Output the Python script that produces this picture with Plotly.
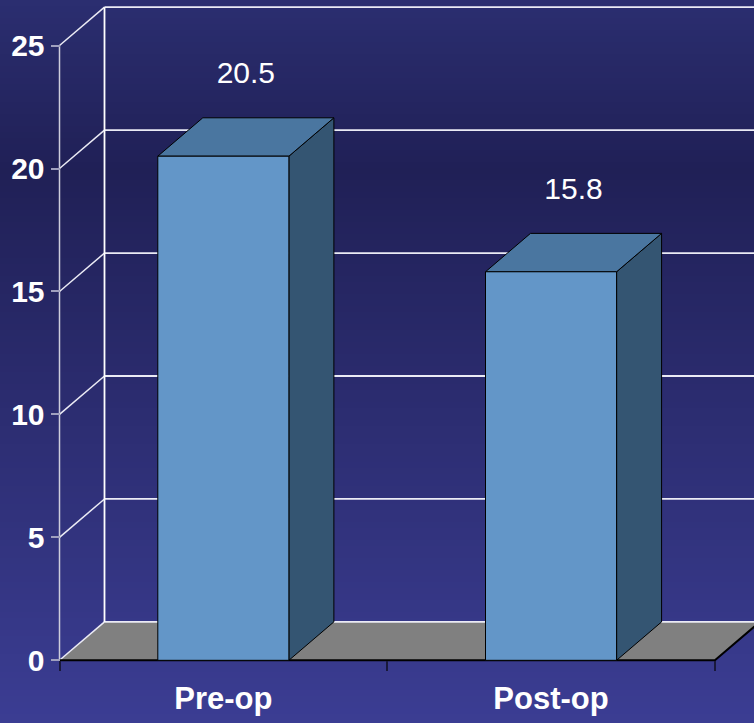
import plotly.graph_objects as go

# ---- data ----
categories = ["Pre-op", "Post-op"]
values = [20.5, 15.8]
value_labels = ["20.5", "15.8"]
y_ticks = [0, 5, 10, 15, 20, 25]

# ---- geometry / style constants ----
W, H = 754, 723
PX_X = 327.7          # pixels per category unit
PX_Y = 24.59          # pixels per value unit
ORG_X, ORG_Y = 59.5, 660.3   # pixel position of the front axis origin
x_range = [-0.5 - ORG_X / PX_X, -0.5 + (W - ORG_X) / PX_X]
y_range = [-(H - ORG_Y) / PX_Y, ORG_Y / PX_Y]
DX = 45 / PX_X        # depth offset (x)
DY = 38.4 / PX_Y      # depth offset (y)
HALF = 0.2            # half bar width
X0 = -0.5
X1 = len(categories) - 0.5
YMAX = y_ticks[-1]

FONT = "Liberation Sans, Arial, sans-serif"

FRONT = "rgb(99,150,200)"
TOP = "rgb(74,118,160)"
SIDE = "rgb(52,85,114)"
FLOOR = "rgb(128,128,128)"

fig = go.Figure()


def poly(xs, ys, fill, lc="black", lw=1):
    fig.add_trace(go.Scatter(
        x=xs + [xs[0]], y=ys + [ys[0]], mode="lines", fill="toself",
        fillcolor=fill, line=dict(color=lc, width=lw),
        hoverinfo="skip", showlegend=False))


def lines(xs, ys, color, width):
    fig.add_trace(go.Scatter(
        x=xs, y=ys, mode="lines", line=dict(color=color, width=width),
        hoverinfo="skip", showlegend=False, connectgaps=False))


# floor
poly([X0, X1, X1 + DX, X0 + DX], [0, 0, DY, DY], FLOOR, lc="rgba(0,0,0,0)", lw=0)

# walls: side diagonals, back gridlines, back vertical, front axis
xs, ys = [], []
for v in y_ticks:
    xs += [X0, X0 + DX, None]
    ys += [v, v + DY, None]
lines(xs, ys, "rgb(235,235,245)", 1.5)

xs, ys = [], []
for v in y_ticks:
    xs += [X0 + DX, x_range[1] + 0.2, None]
    ys += [v + DY, v + DY, None]
lines(xs, ys, "rgb(235,235,245)", 1.8)

lines([X0 + DX, X0 + DX], [DY, YMAX + DY], "white", 1.8)
lines([X0, X0], [0, YMAX], "rgb(205,205,220)", 1.5)

# floor front and right edges
lines([X0, X1, X1 + DX], [0, 0, DY], "black", 2)

# bars
for i, v in enumerate(values):
    a, b = i - HALF, i + HALF
    poly([b, b + DX, b + DX, b], [0, DY, v + DY, v], SIDE)
    poly([a, b, b + DX, a + DX], [v, v, v + DY, v + DY], TOP)
    poly([a, b, b, a], [0, 0, v, v], FRONT)

# value labels
fig.add_trace(go.Scatter(
    x=[i + DX / 2 for i in range(len(values))],
    y=[v + DY + 1.72 for v in values],
    mode="text", text=value_labels, textposition="middle center",
    textfont=dict(family=FONT, size=30, color="white"),
    hoverinfo="skip", showlegend=False, cliponaxis=False))

# background gradient bands
stops = [(0, (43, 46, 112)), (170, (32, 32, 86)), (723, (59, 61, 147))]


def col_at(py):
    for (p0, c0), (p1, c1) in zip(stops[:-1], stops[1:]):
        if p0 <= py <= p1:
            t = (py - p0) / (p1 - p0)
            return "rgb(%d,%d,%d)" % tuple(round(c0[k] + t * (c1[k] - c0[k])) for k in range(3))
    return "rgb(%d,%d,%d)" % stops[-1][1]


shapes = []
step = 6
for py in range(0, H, step):
    shapes.append(dict(
        type="rect", xref="paper", yref="paper", layer="below",
        x0=0, x1=1, y0=1 - (py + step + 0.5) / H, y1=1 - py / H,
        fillcolor=col_at(py + step / 2), line=dict(width=0)))

fig.update_layout(
    width=W, height=H,
    margin=dict(l=0, r=0, t=0, b=0),
    paper_bgcolor="rgb(40,42,100)",
    plot_bgcolor="rgba(0,0,0,0)",
    shapes=shapes,
    showlegend=False,
    xaxis=dict(
        range=x_range, anchor="free", position=(H - ORG_Y) / H,
        showgrid=False, zeroline=False, showline=False,
        tickmode="array", tickvals=list(range(len(categories))),
        ticktext=categories, ticks="", ticklabelstandoff=17,
        tickfont=dict(family=FONT, size=31, color="white", weight="bold"),
        minor=dict(tickmode="array", tickvals=[X0 + k for k in range(len(categories) + 1)],
                   ticks="outside", ticklen=10, tickwidth=2,
                   tickcolor="rgb(25,25,60)", showgrid=False),
        fixedrange=True,
    ),
    yaxis=dict(
        range=y_range, anchor="free", position=ORG_X / W,
        showgrid=False, zeroline=False, showline=False,
        tickmode="array", tickvals=y_ticks,
        ticks="outside", ticklen=9, tickwidth=2, tickcolor="rgb(160,160,190)",
        ticklabelstandoff=0,
        tickfont=dict(family=FONT, size=30, color="white", weight="bold"),
        fixedrange=True,
    ),
)

fig.write_html("out.html")
